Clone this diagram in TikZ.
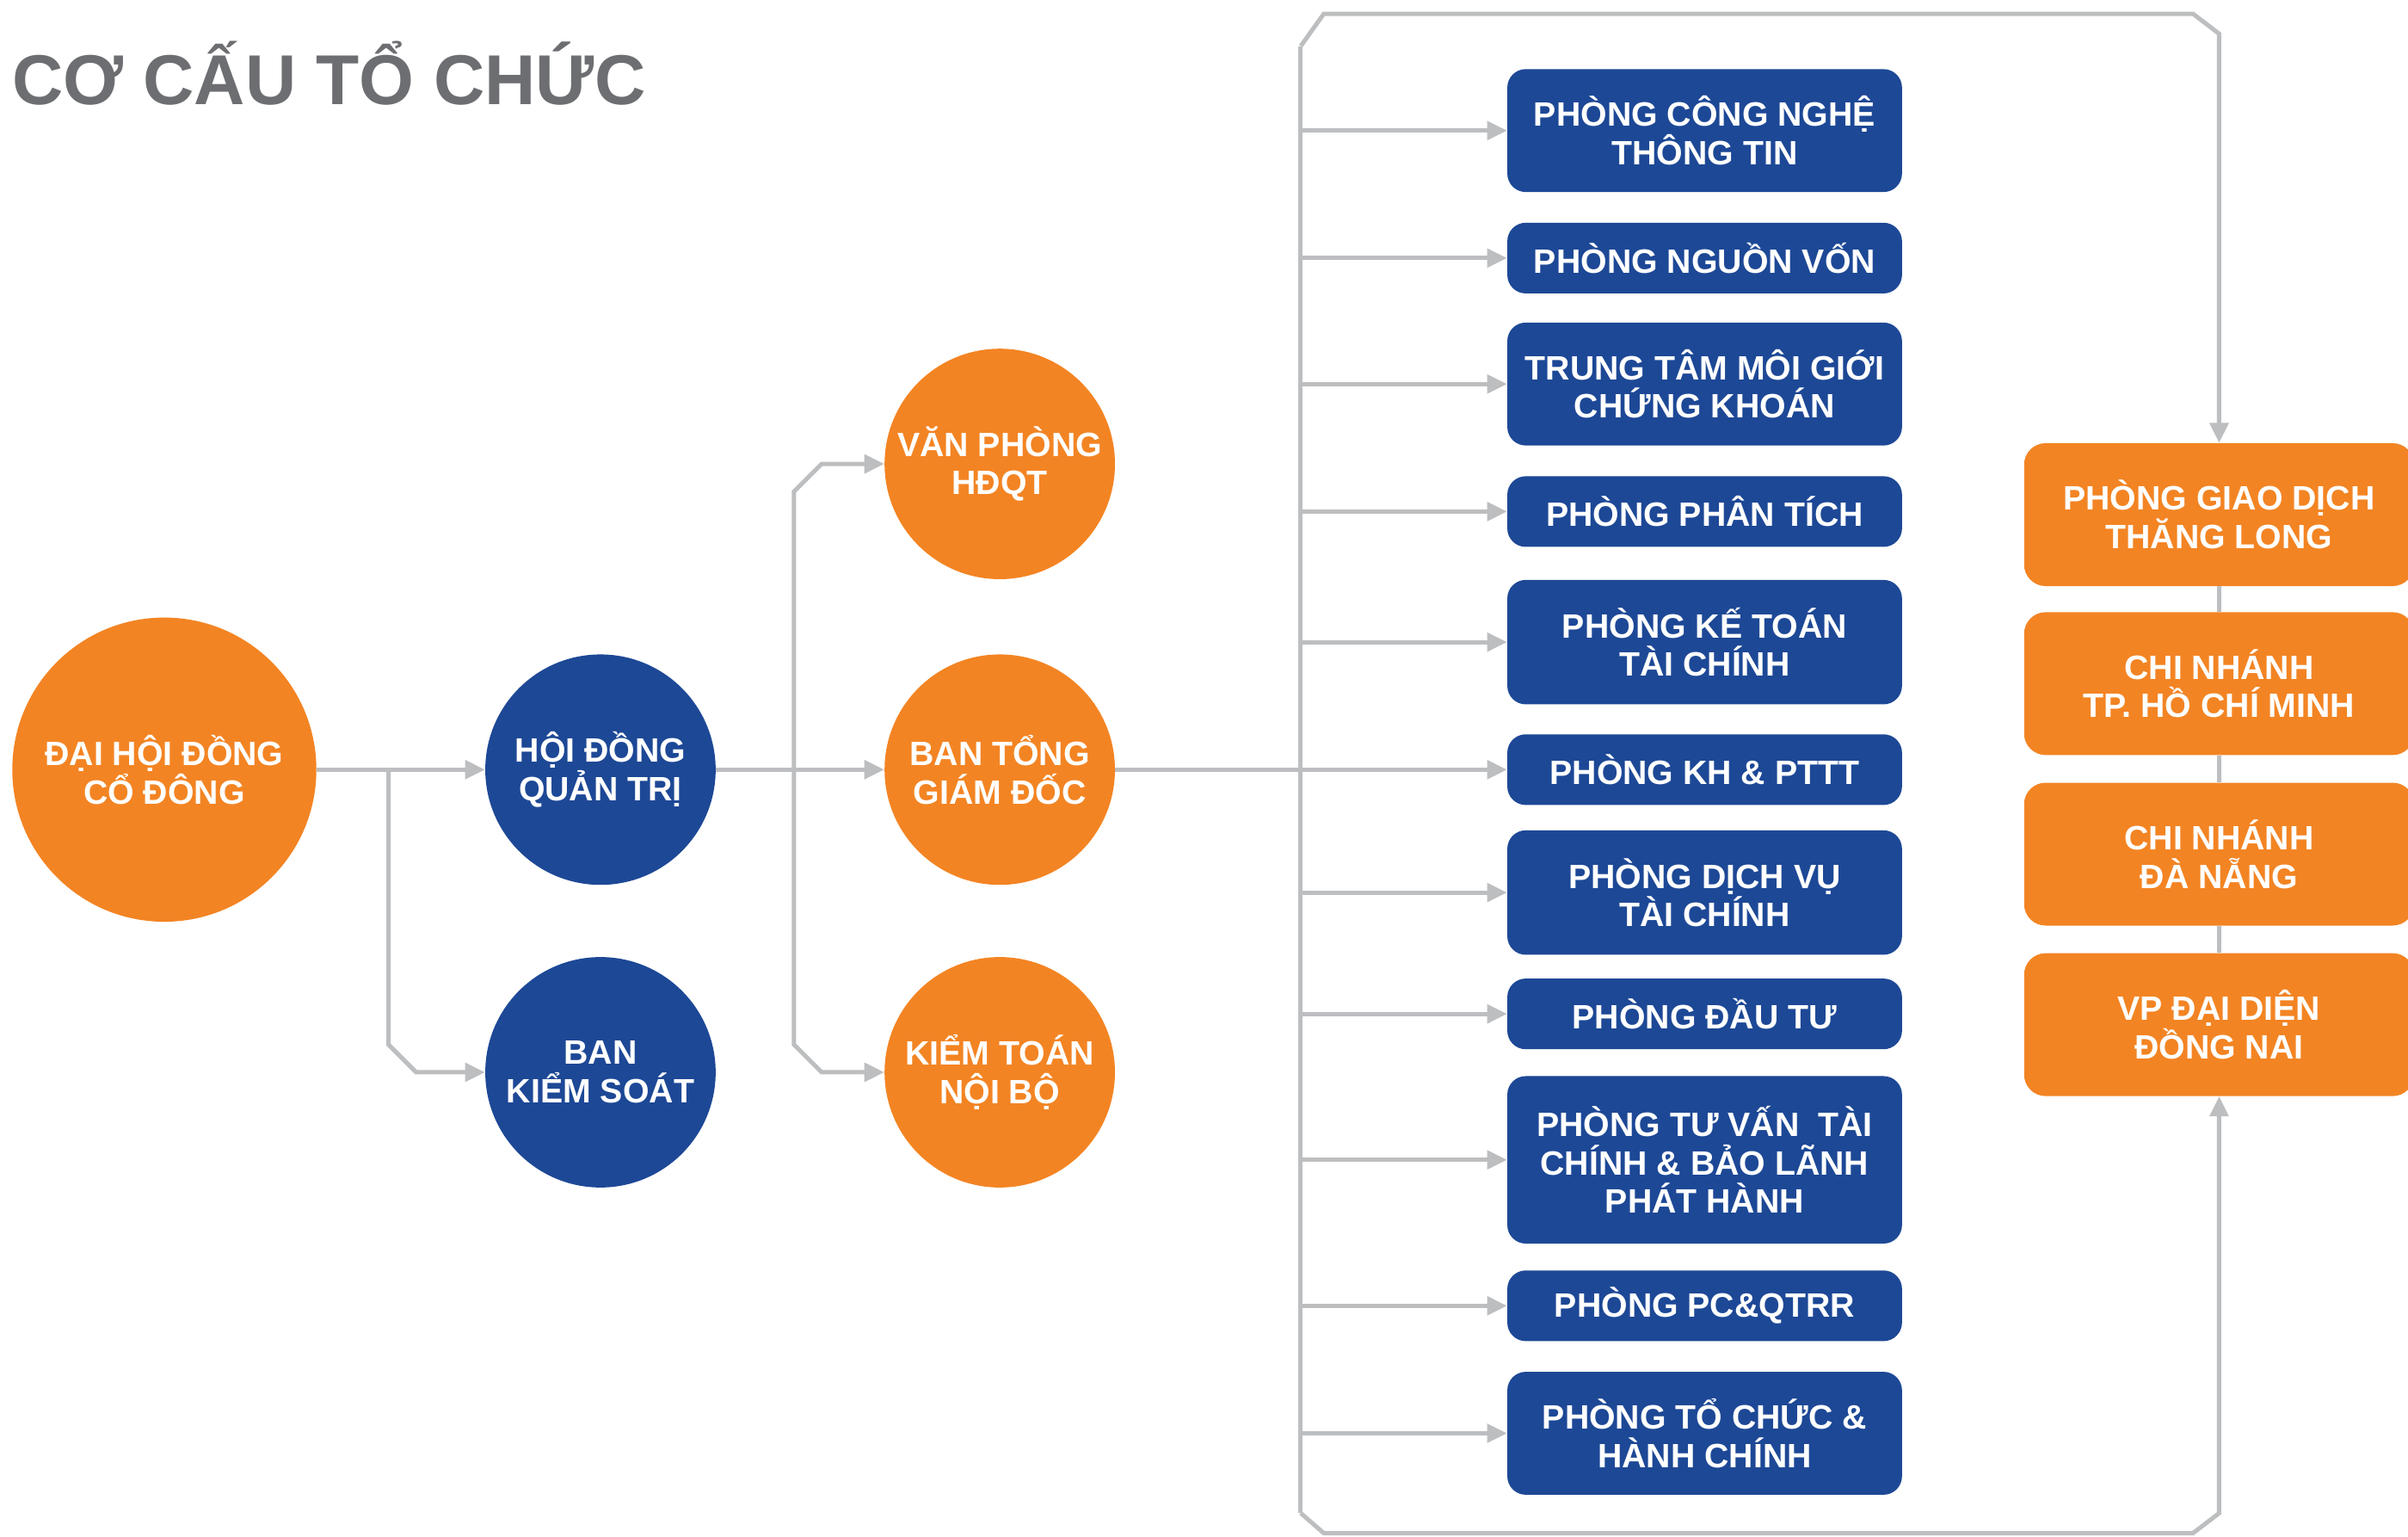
\documentclass[tikz,border=0pt]{standalone}
\usepackage{fontspec}
\setmainfont{Liberation Sans}
\usetikzlibrary{arrows.meta,positioning}
\definecolor{cam}{HTML}{F38423}
\definecolor{xanh}{HTML}{1D4896}
\definecolor{xam}{HTML}{BCBEC0}
\definecolor{chuxam}{HTML}{6D6E71}

\begin{document}
\begin{tikzpicture}[x=1pt,y=-1pt,font=\bfseries\fontsize{22}{25}\selectfont,>={Triangle[length=13pt,width=12pt]},
circ/.style={circle,fill=#1,text=white,align=center,minimum size=150pt,inner sep=0pt},circ/.default=cam,
dept/.style={fill=xanh,rounded corners=12pt,text=white,align=center,minimum width=257pt,minimum height=#1,inner sep=0pt},
branch/.style={fill=cam,rounded corners=14pt,text=white,align=center,minimum width=254pt,minimum height=93pt,inner sep=0pt},
link/.style={xam,line width=2.8pt},
arr/.style={->,link}]
\path[use as bounding box,fill=white] (0,0) rectangle (1568,1000);
\node[anchor=base west,inner sep=0pt,text=chuxam,font=\bfseries\fontsize{46}{50}\selectfont] (tieude) at (8,68) {CƠ CẤU TỔ CHỨC};
% cac cap lanh dao
\node[circ=cam,minimum size=198pt] (dhcd) at (107,501) {ĐẠI HỘI ĐỒNG\\CỔ ĐÔNG};
\node[circ=xanh] (hdqt) at (391,501) {HỘI ĐỒNG\\QUẢN TRỊ};
\node[circ=xanh] (bks) at (391,698) {BAN\\KIỂM SOÁT};
\node[circ] (vphd) at (651,302) {VĂN PHÒNG\\HĐQT};
\node[circ] (btgd) at (651,501) {BAN TỔNG\\GIÁM ĐỐC};
\node[circ] (ktnb) at (651,698) {KIỂM TOÁN\\NỘI BỘ};
% cac phong ban
\node[dept=80pt] (cntt) at (1110,85) {PHÒNG CÔNG NGHỆ\\THÔNG TIN};
\node[dept=46pt] (nv) at (1110,168) {PHÒNG NGUỒN VỐN};
\node[dept=80pt] (mg) at (1110,250) {TRUNG TÂM MÔI GIỚI\\CHỨNG KHOÁN};
\node[dept=46pt] (pt) at (1110,333) {PHÒNG PHÂN TÍCH};
\node[dept=81pt] (kt) at (1110,418) {PHÒNG KẾ TOÁN\\TÀI CHÍNH};
\node[dept=46pt] (kh) at (1110,501) {PHÒNG KH \& PTTT};
\node[dept=81pt] (dv) at (1110,581) {PHÒNG DỊCH VỤ\\TÀI CHÍNH};
\node[dept=46pt] (dt) at (1110,660) {PHÒNG ĐẦU TƯ};
\node[dept=109pt] (tv) at (1110,755) {PHÒNG TƯ VẤN\ \ TÀI\\CHÍNH \& BẢO LÃNH\\PHÁT HÀNH};
\node[dept=46pt] (pc) at (1110,850) {PHÒNG PC\&QTRR};
\node[dept=80pt] (tc) at (1110,933) {PHÒNG TỔ CHỨC \&\\HÀNH CHÍNH};
% chi nhanh
\node[branch] (gdtl) at (1445,335) {PHÒNG GIAO DỊCH\\THĂNG LONG};
\node[branch] (hcm) at (1445,445) {CHI NHÁNH\\TP. HỒ CHÍ MINH};
\node[branch] (dng) at (1445,556) {CHI NHÁNH\\ĐÀ NẴNG};
\node[branch] (dnai) at (1445,667) {VP ĐẠI DIỆN\\ĐỒNG NAI};
% duong noi
\coordinate (nhanh1) at (253,501);
\coordinate (nhanh2) at (517,501);
\coordinate (tren) at (847,30);
\coordinate (duoi) at (847,985);
\draw[arr] (dhcd) -- (hdqt);
\draw[arr] (nhanh1) -- ([yshift=18pt]nhanh1|-bks) -- ++(18,18) -- (bks);
\draw[arr] (hdqt) -- (btgd);
\draw[arr] (nhanh2) -- ([yshift=-18pt]nhanh2|-vphd) -- ++(18,-18) -- (vphd);
\draw[arr] (nhanh2) -- ([yshift=18pt]nhanh2|-ktnb) -- ++(18,18) -- (ktnb);
\draw[link] (tren) -- (duoi);
\draw[arr] (tren) -- ++(15,-21) -- (1428,9) -- (1445,22) -- (gdtl);
\draw[arr] (duoi) -- ++(15,13) -- (1428,998) -- (1445,985) -- (dnai);
\foreach \b in {cntt,nv,mg,pt,kt,dv,dt,tv,pc,tc} \draw[arr] (tren|-\b) -- (\b);
\draw[arr] (btgd) -- (kh);
\draw[link] (gdtl) -- (hcm) (hcm) -- (dng) (dng) -- (dnai);
\end{tikzpicture}
\end{document}
